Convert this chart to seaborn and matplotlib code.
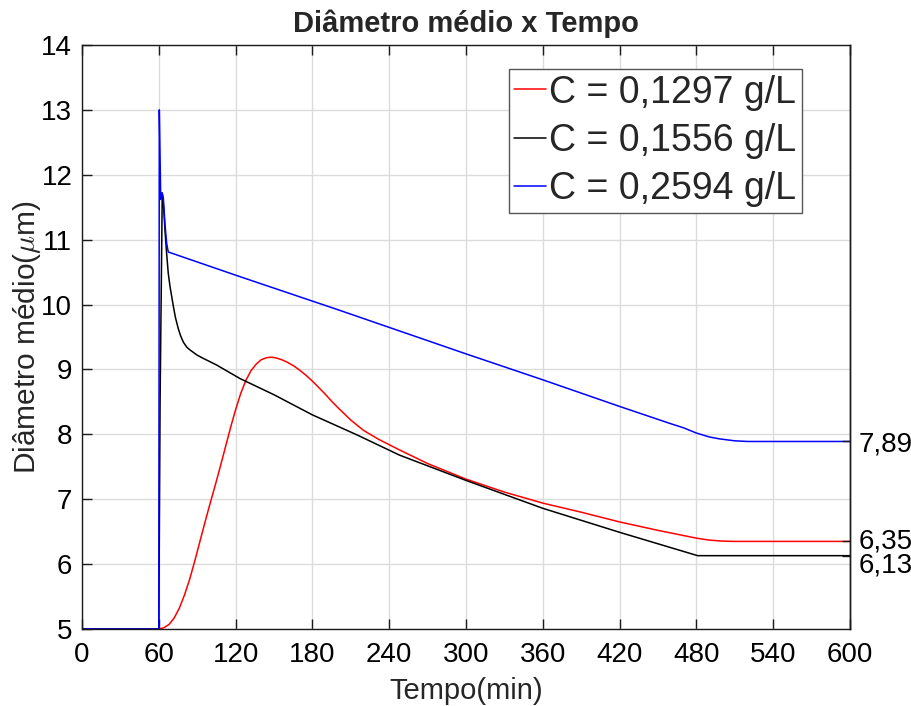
import numpy as np
import pandas as pd
import matplotlib
matplotlib.use("Agg")
import matplotlib.pyplot as plt
import matplotlib.transforms as mtransforms
import seaborn as sns

# Mean particle diameter (µm) versus time (min) for three concentrations
labels = ["C = 0,1297 g/L", "C = 0,1556 g/L", "C = 0,2594 g/L"]
colors = ["#ff0000", "#000000", "#0000ff"]

t_red = [0, 60, 64, 68, 72, 76, 80, 84, 88, 92, 96, 100, 104, 108, 112, 116, 120,
         124, 128, 132, 136, 140, 144, 148, 152, 156, 160, 165, 170, 175, 180, 185,
         190, 195, 200, 210, 220, 232, 248, 270, 300, 330, 360, 390, 420, 450, 470,
         480, 490, 500, 510, 600]
d_red = [5.0, 5.0, 5.02, 5.07, 5.17, 5.32, 5.52, 5.76, 6.04, 6.34, 6.64, 6.93, 7.21,
         7.50, 7.80, 8.10, 8.38, 8.63, 8.83, 8.98, 9.08, 9.15, 9.18, 9.19, 9.175, 9.15,
         9.115, 9.06, 8.99, 8.91, 8.82, 8.72, 8.62, 8.51, 8.41, 8.22, 8.06, 7.92, 7.76,
         7.55, 7.31, 7.11, 6.94, 6.80, 6.65, 6.52, 6.44, 6.40, 6.37, 6.355, 6.35, 6.35]

t_black = [0, 60, 61, 62.7, 63.8, 64.8, 66.1, 67.4, 68.75, 71.4, 73, 75.2, 77, 79.2,
           82, 84.4, 90, 94.8, 105, 123.4, 150, 180, 215, 248, 300, 360, 420, 481, 600]
d_black = [5.0, 5.0, 8.5, 11.72, 11.5, 11.15, 10.79, 10.48, 10.28, 9.97, 9.80, 9.63,
           9.52, 9.42, 9.34, 9.30, 9.22, 9.17, 9.07, 8.86, 8.61, 8.30, 7.99, 7.68, 7.29,
           6.86, 6.49, 6.13, 6.13]

t_blue = [0, 60, 60.4, 61.5, 62.5, 63.5, 64.8, 66.1, 67.4, 123.4, 200, 300, 360, 420,
          459, 470, 480, 490, 498, 510, 520, 600]
d_blue = [5.0, 5.0, 13.0, 11.62, 11.72, 11.65, 11.25, 10.95, 10.81, 10.43, 9.92,
          9.24, 8.84, 8.43, 8.17, 8.10, 8.02, 7.96, 7.93, 7.90, 7.89, 7.89]

final_values = [6.13, 6.35, 7.89]
final_labels = ["6,13", "6,35", "7,89"]

x_ticks = list(range(0, 601, 60))
y_ticks = list(range(5, 15))

frames = []
for lab, t, d in zip(labels, [t_red, t_black, t_blue], [d_red, d_black, d_blue]):
    frames.append(pd.DataFrame({"Tempo": t, "Diametro": d, "Serie": lab}))
df = pd.concat(frames, ignore_index=True)

sns.set_theme(style="white")
plt.rcParams["font.family"] = ["Liberation Sans", "DejaVu Sans"]
plt.rcParams["mathtext.fontset"] = "cm"

fig = plt.figure(figsize=(9.12, 7.06), dpi=100)
ax = fig.add_axes([82 / 912, 1 - 629 / 706, 768 / 912, 584 / 706])

sns.lineplot(data=df, x="Tempo", y="Diametro", hue="Serie", hue_order=labels,
             palette=colors, estimator=None, sort=False, linewidth=1.1, ax=ax)

ax.set_xlim(0, 600)
ax.set_ylim(5, 14)
ax.set_xticks(x_ticks)
ax.set_yticks(y_ticks)
ax.grid(True, color="#dcdcdc", linewidth=1.0)
ax.set_axisbelow(True)
for s in ax.spines.values():
    s.set_color("#1a1a1a")
    s.set_linewidth(1.0)
ax.tick_params(axis="both", direction="in", length=7, width=1.0, color="#1a1a1a",
               labelsize=20, labelcolor="black", top=True, left=True,
               bottom=True, right=False)
ax.tick_params(axis="x", pad=9)
ax.tick_params(axis="y", pad=7)

ax.set_title("Diâmetro médio x Tempo", fontsize=21, fontweight="bold", pad=9)
ax.set_xlabel("Tempo(min)", fontsize=21, labelpad=6.5)
ax.set_ylabel(r"Diâmetro médio($\mu$m)", fontsize=21.5, labelpad=-1.5)

leg = ax.legend(loc="upper right", bbox_to_anchor=(0.9375, 0.959), borderaxespad=0,
                fontsize=27, frameon=True, fancybox=False, framealpha=1,
                edgecolor="#555555", handlelength=0.85, handletextpad=0.08,
                labelspacing=0.33, borderpad=0.15)
leg.get_frame().set_linewidth(1.0)

# Right axis marking the final plateau value of each series
ax2 = ax.twinx()
ax2.set_ylim(5, 14)
ax2.set_yticks(final_values)
ax2.set_yticklabels(final_labels)
ax2.tick_params(axis="y", direction="in", length=6, width=1.0, color="#1a1a1a",
                labelsize=20, labelcolor="black", pad=6)
ax2.grid(False)
for s in ax2.spines.values():
    s.set_visible(False)
ax2.spines["right"].set_visible(True)
ax2.spines["right"].set_color("#1a1a1a")
ax2.spines["right"].set_linewidth(1.0)
# nudge the two close labels apart so they stay legible
shifts = {"6,13": -7, "6,35": 3}
for lbl in ax2.get_yticklabels():
    dy = shifts.get(lbl.get_text(), 0)
    if dy:
        lbl.set_transform(lbl.get_transform() +
                          mtransforms.ScaledTranslation(0, dy / 100, fig.dpi_scale_trans))

fig.savefig("out.png", dpi=100)
